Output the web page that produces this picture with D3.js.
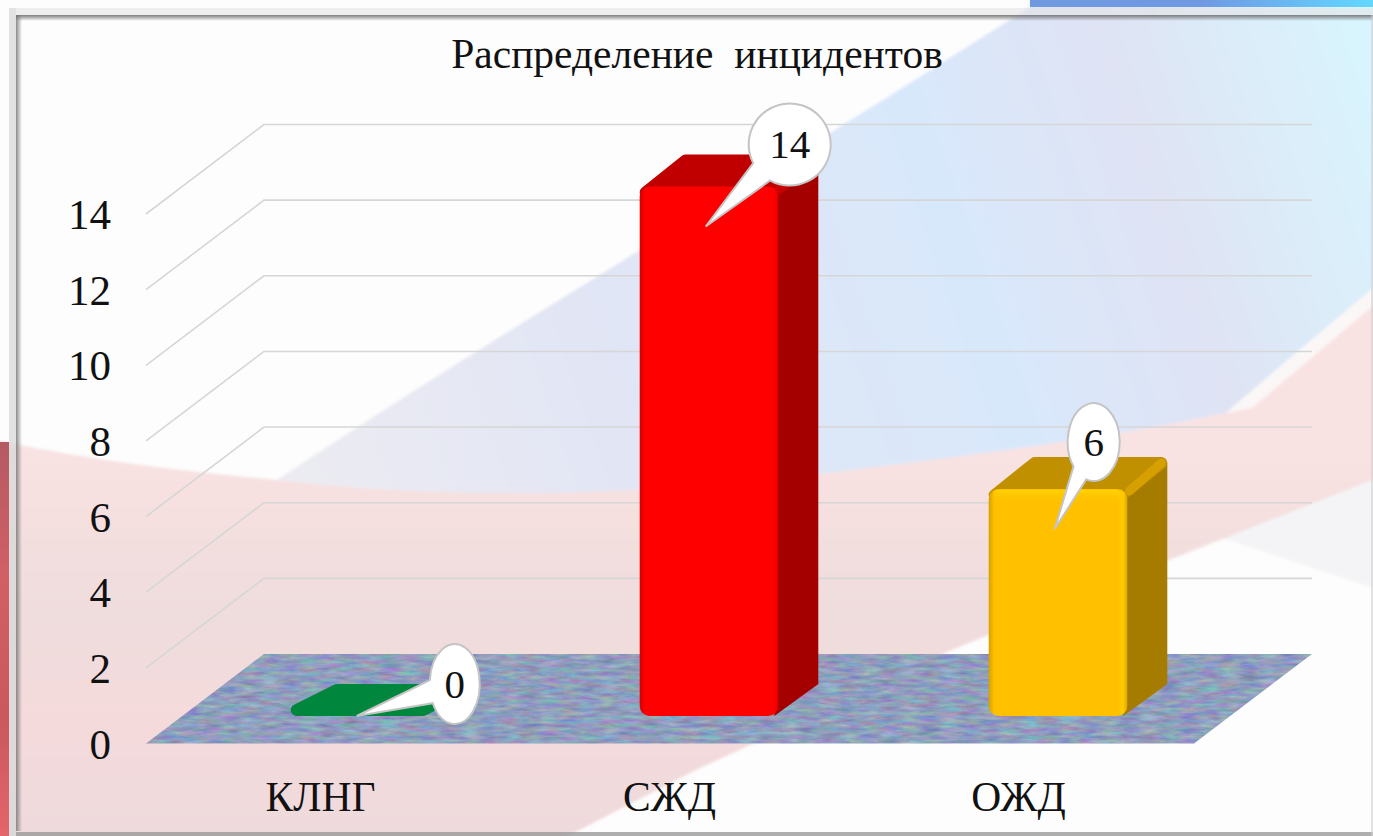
<!DOCTYPE html>
<html>
<head>
<meta charset="utf-8">
<script src="https://cdn.jsdelivr.net/npm/d3@7"></script>
<style>
  html, body { margin: 0; padding: 0; background: #fff; overflow: hidden; }
  text { font-family: "Liberation Serif", serif; fill: #111; }
</style>
</head>
<body>
<div id="chart"></div>
<script>
var chartTitle = "Распределение  инцидентов";
var categories = ["КЛНГ", "СЖД", "ОЖД"];
var values = [0, 14, 6];
var yTicks = [0, 2, 4, 6, 8, 10, 12, 14];

var width = 1373, height = 836;

// back wall and floor of the 3d box
var wallBottom = 654, wallTop = 124.5, wallLeft = 264, wallRight = 1312;
var floorDx = -118, floorDy = 89.5;
// bar stands a bit inside the floor, depth is the side face offset
var barInset = { x: 40, y: -27.5 };
var depth = { x: 40, y: -32 };

var fills = d3.scaleOrdinal().domain(categories).range(["#00863d", "#ff0000", "#ffc000"]);
var tops = d3.scaleOrdinal().domain(categories).range(["#00863d", "#c00000", "#c09000"]);
var sides = d3.scaleOrdinal().domain(categories).range(["#006a30", "#a50000", "#a67c00"]);
var edges = d3.scaleOrdinal().domain(categories).range(["#00863d", "#c80000", "#d6a000"]);

// bubble placement relative to the tail tip
var bubbles = d3.scaleOrdinal().domain(categories).range([
  { dx: 98, dy: -32, rx: 25, ry: 40 },
  { dx: 84, dy: -82, rx: 41, ry: 41 },
  { dx: 39, dy: -87, rx: 26, ry: 39 }
]);

var y = d3.scaleLinear().domain([0, 14]).range([wallBottom, wallTop]);
var yFront = d3.scaleLinear().domain([0, 14]).range([wallBottom + floorDy, wallTop + floorDy]);
var x = d3.scaleBand().domain(categories)
  .range([wallLeft + floorDx, wallRight + floorDx - 1])
  .paddingInner(0.6).paddingOuter(0.3);

var svg = d3.select("#chart").append("svg").attr("width", width).attr("height", height)
  .style("display", "block");
var defs = svg.append("defs");

function gradient(id, x1, y1, x2, y2, stops, userSpace) {
  var g = defs.append("linearGradient").attr("id", id)
    .attr("x1", x1).attr("y1", y1).attr("x2", x2).attr("y2", y2);
  if (userSpace) g.attr("gradientUnits", "userSpaceOnUse");
  stops.forEach(function (s) {
    var st = g.append("stop").attr("offset", s[0]).attr("stop-color", s[1]);
    if (s[2] !== undefined) st.attr("stop-opacity", s[2]);
  });
}

gradient("blueGrad", 277, 480, 1373, 100, [[0, "#ecebf2"], [0.3, "#e1e5f4"], [0.62, "#d8e8fb"], [0.8, "#dfe3f4"], [1, "#d8f4fc"]], true);
gradient("pinkGrad", 0, 440, 0, 836, [[0, "#f9e2e2"], [0.45, "#efdcdc"], [0.7, "#f5dadb"], [1, "#eed9dc"]], true);
gradient("topStrip", 1030, 0, 1373, 0, [[0, "#6f9ade"], [0.5, "#7099e3"], [1, "#62d8ff"]], true);
gradient("leftStrip", 0, 440, 0, 836, [[0, "#b45a62"], [0.35, "#d25f66"], [0.7, "#c9585f"], [1, "#e4656b"]], true);
gradient("frameLeft", 0, 0, 1, 0, [[0, "#777", 0.85], [1, "#777", 0]]);
gradient("frameTop", 0, 0, 0, 1, [[0, "#6f6f6f", 0.9], [1, "#6f6f6f", 0]]);
categories.forEach(function (c, i) {
  var base = d3.color(fills(c));
  gradient("front" + i, 0, 0, 1, 0, [
    [0, base.darker(0.5).formatHex()], [0.04, base.formatHex()], [0.93, base.formatHex()],
    [0.97, base.brighter(0.15).formatHex()], [1, base.darker(0.4).formatHex()]]);
  gradient("bevel" + i, 0, 0, 0, 1, [[0, base.brighter(0.5).formatHex(), 0.5], [1, base.formatHex(), 0]]);
});

defs.append("filter").attr("id", "soft").attr("x", -0.02).attr("y", -0.02).attr("width", 1.04).attr("height", 1.04)
  .append("feGaussianBlur").attr("stdDeviation", 1.4);

var noise = defs.append("filter").attr("id", "floorNoise")
  .attr("x", 0).attr("y", 0).attr("width", 1).attr("height", 1)
  .attr("color-interpolation-filters", "sRGB");
noise.append("feTurbulence").attr("type", "fractalNoise").attr("baseFrequency", "0.05 0.25")
  .attr("numOctaves", 5).attr("seed", 7).attr("result", "n");
noise.append("feColorMatrix").attr("in", "n").attr("type", "matrix")
  .attr("values", "0.38 0 0 0 0.37  0 0.38 0 0 0.43  0 0 0.28 0 0.6  0 0 0 0 1").attr("result", "c");
noise.append("feComposite").attr("in", "c").attr("in2", "SourceAlpha").attr("operator", "in");

// background picture
var bg = svg.append("g");
bg.append("rect").attr("width", width).attr("height", height).attr("fill", "#fdfdfd");
var soft = bg.append("g").attr("filter", "url(#soft)");
soft.append("path").attr("fill", "#f4f4f6")
  .attr("d", "M1219,537 L1373,588 L1373,477 Z");
soft.append("path").attr("fill", "url(#blueGrad)")
  .attr("d", "M1030,7 L907,85 C700,215 480,345 277,480 C500,505 680,490 820,474 C950,458 1100,440 1226,413 L1303,347 L1380,287 L1380,0 L1030,0 Z");
soft.append("path").attr("fill", "url(#pinkGrad)")
  .attr("d", "M-5,440 C100,462 190,472 277,480 C500,505 680,490 820,474 C950,458 1100,440 1226,413 L1380,295 L1380,477 L1169,560 L947,652 L750,745 L700,768 L560,840 L-5,840 Z");
soft.append("path").attr("fill", "#fbf7f7")
  .attr("d", "M1226,413 L1303,347 L1380,282 L1380,300 L1252,408 Z");
bg.append("rect").attr("x", 1030).attr("width", 343).attr("height", 7).attr("fill", "url(#topStrip)");
bg.append("rect").attr("y", 442).attr("width", 9).attr("height", 394).attr("fill", "url(#leftStrip)");

// frame over the picture
var frame = svg.append("g");
frame.append("rect").attr("x", 9).attr("y", 8).attr("width", 7).attr("height", 828).attr("fill", "#d8d8d8").attr("opacity", 0.75);
frame.append("rect").attr("x", 9).attr("y", 8).attr("width", 1364).attr("height", 7).attr("fill", "#e4e4e4").attr("opacity", 0.6);
frame.append("rect").attr("x", 16).attr("y", 15).attr("width", 6).attr("height", 816).attr("fill", "url(#frameLeft)");
frame.append("rect").attr("x", 16).attr("y", 15).attr("width", 1357).attr("height", 6).attr("fill", "url(#frameTop)");
frame.append("rect").attr("x", 16).attr("y", 832).attr("width", 1357).attr("height", 4).attr("fill", "#9a9a9a").attr("opacity", 0.8);
frame.append("rect").attr("x", 1371).attr("y", 15).attr("width", 2).attr("height", 821).attr("fill", "#cfcfcf").attr("opacity", 0.6);

// title
svg.append("text").attr("x", 697).attr("y", 68).attr("text-anchor", "middle")
  .style("font-size", "41.5px").style("white-space", "pre").text(chartTitle);

// walls
svg.append("g").selectAll("path").data(yTicks.slice(1)).enter().append("path")
  .attr("fill", "none").attr("stroke", "#d6d6d6").attr("stroke-width", 1.6)
  .attr("d", function (d) {
    return d3.line()([[wallLeft + floorDx, yFront(d)], [wallLeft, y(d)], [wallRight, y(d)]]);
  });

// floor
svg.append("path").attr("filter", "url(#floorNoise)")
  .attr("d", d3.line()([
    [wallLeft, y(0)], [wallRight, y(0)],
    [wallRight + floorDx, yFront(0)], [wallLeft + floorDx, yFront(0)]
  ]) + "Z");

// axes
var yAxis = d3.axisLeft(yFront).tickValues(yTicks).tickSize(0).tickPadding(35);
var gy = svg.append("g").attr("transform", "translate(" + (wallLeft + floorDx) + ",0)").call(yAxis);
gy.select(".domain").remove();
gy.selectAll("text").style("font-size", "43px").attr("dy", "0.34em");

var xAxis = d3.axisBottom(x).tickSize(0).tickPadding(0);
var gx = svg.append("g").attr("transform", "translate(0," + yFront(0) + ")").call(xAxis);
gx.select(".domain").remove();
gx.selectAll("text").style("font-size", "41.5px").attr("y", 67).attr("dy", 0);

// bars
var baseY = yFront(0) + barInset.y;
function barTop(v) { return y(v) + (baseY - y(0)); }

var bars = svg.append("g").selectAll("g").data(categories).enter().append("g");
bars.each(function (c, i) {
  var g = d3.select(this);
  var x0 = x(c) + barInset.x, w = x.bandwidth() - 1, t = barTop(values[i]);
  var inset = 6, solid = values[i] > 0;
  if (solid) {
    g.append("path").attr("fill", sides(c))
      .attr("d", d3.line()([[x0 + w - 4, t + 2], [x0 + w + depth.x, t + depth.y + 6],
        [x0 + w + depth.x, baseY + depth.y], [x0 + w - 4, baseY]]) + "Z");
  }
  var frontEdge = solid ? t + inset : t - inset;
  g.append("path").attr("fill", tops(c)).attr("stroke", tops(c))
    .attr("stroke-width", inset * 2).attr("stroke-linejoin", "round")
    .attr("d", d3.line()([[x0 + inset, frontEdge], [x0 + depth.x + inset, t + depth.y + inset],
      [x0 + w + depth.x - inset, t + depth.y + inset], [x0 + w - inset, frontEdge]]) + "Z");
  if (solid) {
    g.append("path").attr("fill", "none").attr("stroke", edges(c)).attr("stroke-width", 9)
      .attr("stroke-linecap", "round")
      .attr("d", d3.line()([[x0 + w + 2, t + 2], [x0 + w + depth.x - 6, t + depth.y + 6]]));
    g.append("rect").attr("x", x0).attr("y", t).attr("width", w).attr("height", baseY - t)
      .attr("rx", 10).attr("fill", "url(#front" + i + ")");
    g.append("rect").attr("x", x0 + 5).attr("y", t + 1).attr("width", w - 12).attr("height", 14)
      .attr("rx", 5).attr("fill", "url(#bevel" + i + ")");
  }
});

// speech bubble labels
function bubblePath(tx, ty, cx, cy, rx, ry) {
  var a = Math.atan2((ty - cy) / ry, (tx - cx) / rx), gap = 0.3;
  var p1 = [cx + rx * Math.cos(a + gap), cy + ry * Math.sin(a + gap)];
  var p2 = [cx + rx * Math.cos(a - gap), cy + ry * Math.sin(a - gap)];
  return "M" + tx + "," + ty + "L" + p1 + "A" + rx + "," + ry + " 0 1 1 " + p2 + "Z";
}

var labels = svg.append("g").selectAll("g").data(categories).enter().append("g");
labels.each(function (c, i) {
  var g = d3.select(this), b = bubbles(c);
  var tx = x(c) + barInset.x + 66;
  var ty = Math.min(baseY, barTop(values[i]) + 40);
  var cx = tx + b.dx, cy = ty + b.dy;
  g.append("path").attr("d", bubblePath(tx, ty, cx, cy, b.rx, b.ry))
    .attr("fill", "#fff").attr("stroke", "#c4c4c4").attr("stroke-width", 2);
  g.append("text").attr("x", cx).attr("y", cy).attr("dy", "0.34em").attr("text-anchor", "middle")
    .style("font-size", "41px").text(values[i]);
});
</script>
</body>
</html>
